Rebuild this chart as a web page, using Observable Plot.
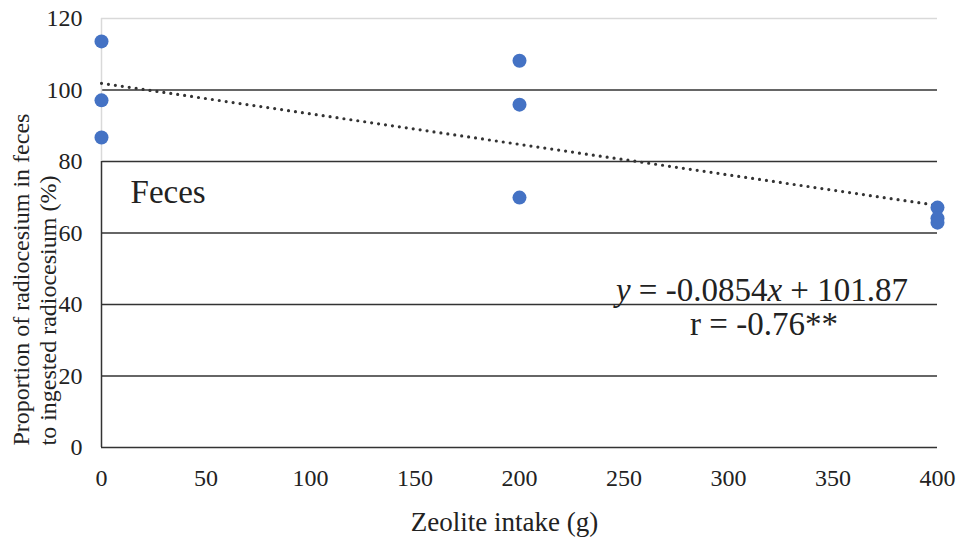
<!DOCTYPE html>
<html>
<head>
<meta charset="utf-8">
<script src="https://cdn.jsdelivr.net/npm/d3@7"></script>
<script src="https://cdn.jsdelivr.net/npm/@observablehq/plot@0.6"></script>
<style>
  body { margin: 0; background: #fff; }
  #chart svg, #chart svg text { font-family: 'Liberation Serif', 'Times New Roman', Times, serif !important; }
</style>
</head>
<body>
<div id="chart"></div>
<script>
const intake = [0, 0, 0, 200, 200, 200, 400, 400, 400];
const proportion = [113.6, 97.1, 86.7, 108.2, 95.9, 69.9, 67.1, 64.1, 62.9];
const xTicks = [0, 50, 100, 150, 200, 250, 300, 350, 400];
const yTicks = [0, 20, 40, 60, 80, 100, 120];
const darkGrid = [0, 20, 40, 60, 80, 100];
const lightGrid = [120];
const slope = -0.0854, intercept = 101.87;
const trendX = [0, 400];
const equationText = ["y = -0.0854x + 101.87", "r = -0.76**"];

const points = intake.map((x, i) => ({x, y: proportion[i]}));
const trend = trendX.map(x => ({x, y: slope * x + intercept}));

const chart = Plot.plot({
  width: 965,
  height: 549,
  marginLeft: 101,
  marginRight: 28,
  marginTop: 18,
  marginBottom: 102,
  style: {fontFamily: "'Liberation Serif', 'Times New Roman', Times, serif", fontSize: "24px", color: "#222", background: "#fff"},
  x: {domain: [0, 400], ticks: xTicks, tickSize: 0, tickPadding: 21, label: null},
  y: {domain: [0, 120], ticks: yTicks, tickSize: 0, tickPadding: 19, label: null},
  marks: [
    Plot.ruleY(lightGrid, {stroke: "#d9d9d9", strokeWidth: 1.5}),
    Plot.ruleY(darkGrid, {stroke: "#333", strokeWidth: 1.5}),
    Plot.ruleX([0], {y1: 80, y2: 120, stroke: "#d9d9d9", strokeWidth: 1.5}),
    Plot.ruleX([0], {y1: 0, y2: 80, stroke: "#333", strokeWidth: 1.5}),
    Plot.line(trend, {x: "x", y: "y", stroke: "#333", strokeWidth: 3.2, strokeDasharray: "0,7", strokeLinecap: "round"}),
    Plot.dot(points, {x: "x", y: "y", r: 7, fill: "#4472C4", stroke: "none"}),
    Plot.text(["Feces"], {x: 13.9, y: 71.3, text: d => d, textAnchor: "start", fontSize: 33, fill: "#222"}),
    Plot.text([equationText[0]], {x: 316, y: 43.9, text: d => d, fontSize: 33, fill: "#222"}),
    Plot.text([equationText[1]], {x: 317, y: 34.4, text: d => d, fontSize: 33, fill: "#222"}),
    Plot.text(["Proportion of radiocesium in feces\nto ingested radiocesium (%)"], {frameAnchor: "bottom-left", dx: -68, dy: -2, rotate: -90, textAnchor: "start", lineAnchor: "middle", text: d => d, fontSize: 24, lineHeight: 1.125, fill: "#222"}),
    Plot.text(["Zeolite intake (g)"], {frameAnchor: "bottom", dx: -15, dy: 83, text: d => d, fontSize: 27, fill: "#222"})
  ]
});
document.getElementById("chart").appendChild(chart);
d3.select(chart).selectAll("text").attr("font-family", "'Liberation Serif', 'Times New Roman', Times, serif");

// italicize variable letters in the regression equation
d3.select(chart).selectAll("text").filter(function() { return this.textContent === equationText[0]; })
  .each(function() {
    const t = d3.select(this);
    t.text(null);
    const parts = [["y", true], [" = -0.0854", false], ["x", true], [" + 101.87", false]];
    for (const [s, it] of parts) t.append("tspan").attr("font-style", it ? "italic" : null).text(s);
  });
</script>
</body>
</html>
